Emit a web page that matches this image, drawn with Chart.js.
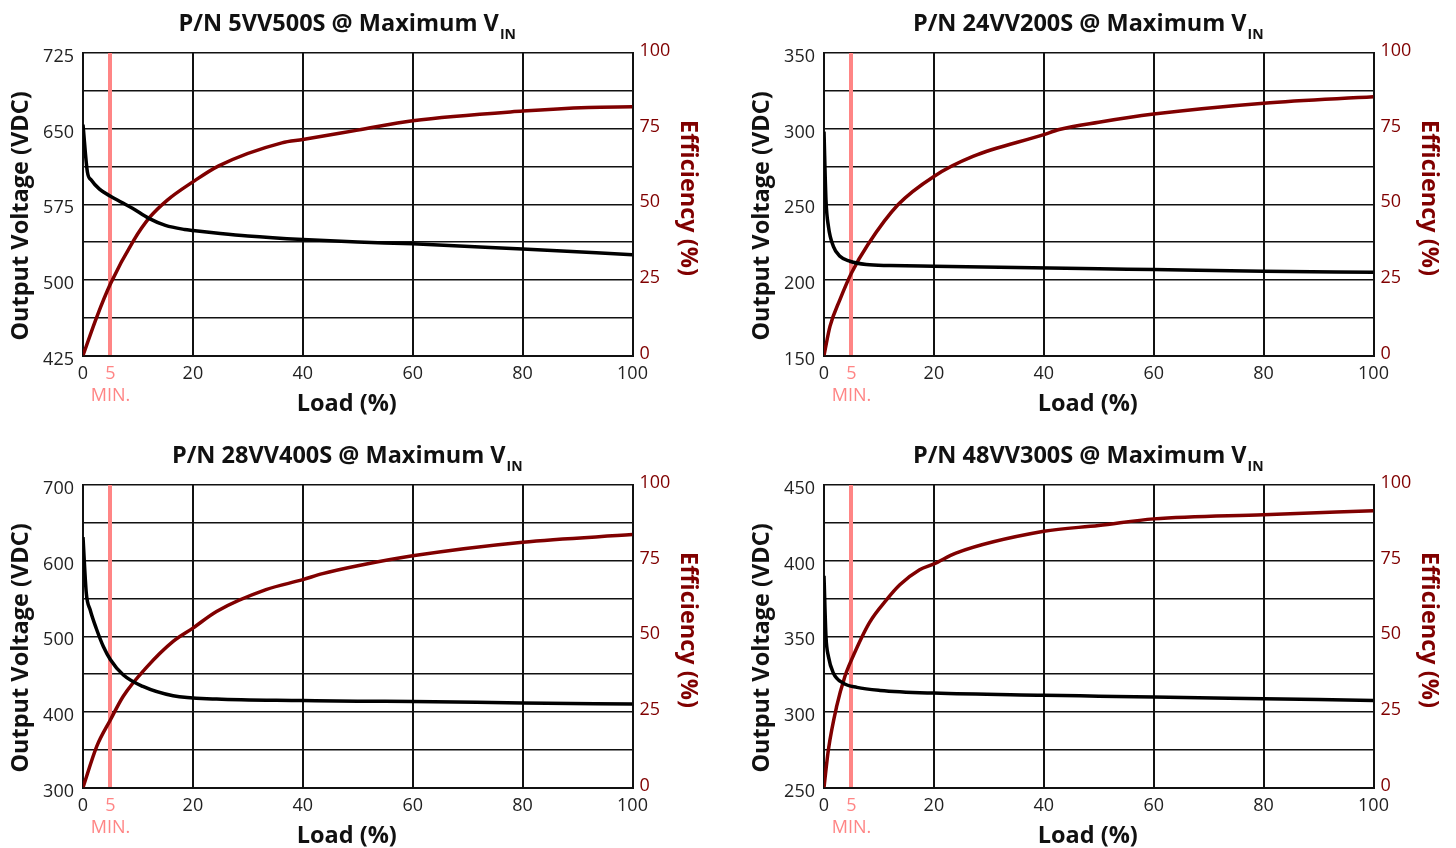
<!DOCTYPE html>
<html>
<head>
<meta charset="utf-8">
<script src="https://cdn.jsdelivr.net/npm/chart.js@4.4.1/dist/chart.umd.min.js"></script>
<style>
  body { margin: 0; background: #fff; }
  .wrap { position: relative; width: 1456px; height: 848px; overflow: hidden; }
  canvas { position: absolute; }
</style>
</head>
<body>
<div class="wrap">
  <canvas id="c1" width="715" height="416" style="left:0;top:0"></canvas>
  <canvas id="c2" width="715" height="416" style="left:741px;top:0"></canvas>
  <canvas id="c3" width="715" height="416" style="left:0;top:432px"></canvas>
  <canvas id="c4" width="715" height="416" style="left:741px;top:432px"></canvas>
</div>
<script>
// x axis ticks (load %), 5 = minimum load marker
const loadTicks = [0, 5, 20, 40, 60, 80, 100];
const effTicks = [0, 25, 50, 75, 100];

// P/N 5VV500S
const loadV1 = [0, 0.8, 1.5, 3, 5, 7, 9, 12, 15, 18.5, 20, 25, 30, 40, 50, 60, 80, 100];
const volt1 = [654, 607, 599, 590, 583, 577, 571, 561, 554, 550, 549, 546, 543.5, 540, 537.5, 535.8, 530.5, 525];
const loadE1 = [0, 2.5, 5, 9.2, 12.2, 15.3, 20, 24.7, 36.2, 40, 50, 60, 80, 92, 100];
const eff1 = [0, 12.7, 23.7, 38, 45.8, 51.3, 57.4, 62.7, 70.3, 71.4, 74.5, 77.6, 80.8, 82, 82.2];

// P/N 24VV200S
const loadV2 = [0, 0.36, 0.8, 1.7, 2.9, 4.7, 7.7, 12, 20, 50, 60, 80, 100];
const volt2 = [298, 253, 235.4, 222.2, 215.6, 212.3, 210.1, 209.5, 209, 207.3, 206.8, 205.7, 205];
const loadE2 = [0, 1.1, 2.9, 5, 8, 13.5, 20, 27.1, 40, 42.8, 50, 60, 80, 100];
const eff2 = [0, 9.7, 18.5, 27.3, 36.7, 49.9, 59.2, 65.8, 73, 74.7, 77.1, 79.8, 83.4, 85.5];

// P/N 28VV400S
const loadV3 = [0, 0.6, 1.3, 2.5, 3.7, 5, 7.3, 10.9, 16.4, 24.3, 40, 50, 60, 80, 100];
const volt3 = [631, 557, 535, 508.6, 486.5, 469, 449, 433.6, 421.3, 417, 415, 414, 413.8, 411.6, 410.3];
const loadE3 = [0, 2.5, 5, 7.3, 11.6, 16.4, 20, 24.3, 33.3, 40, 43.6, 50, 60, 80, 100];
const eff3 = [0, 13.6, 22.4, 30.1, 39.8, 48.3, 52.7, 58.2, 65.4, 68.7, 70.7, 73.3, 76.6, 81.1, 83.6];

// P/N 48VV300S
const loadV4 = [0, 0.36, 0.8, 1.7, 3.5, 6, 10.2, 20, 40, 50, 60, 80, 100];
const volt4 = [390, 350, 336.7, 325.7, 319, 316.2, 314.2, 312.4, 311, 310.4, 309.8, 308.7, 307.6];
const loadE4 = [0, 0.8, 2.3, 3.8, 5, 8.3, 11.4, 13.8, 17.4, 20, 24, 40, 50, 60, 80, 100];
const eff4 = [0, 12.5, 26.8, 36.7, 42.2, 54.6, 62.1, 67, 72, 73.9, 77.5, 84.7, 86.6, 88.8, 90.2, 91.5];

const RED = '#800000';
const MIN_COLOR = '#ff8585';
const FONT = '"Open Sans", "Noto Sans", sans-serif';

// chart title with subscript "IN" and the three axis titles
const chartTexts = {
    id: 'chartTexts',
    afterDraw(chart, args, opts) {
        const c = chart.ctx;
        const area = chart.chartArea;
        const cx = (area.left + area.right) / 2 - 11;
        c.save();
        c.textBaseline = 'alphabetic';
        c.textAlign = 'left';
        c.fillStyle = '#111';
        c.font = 'bold 23.5px ' + FONT;
        const w1 = c.measureText(opts.text).width;
        c.font = 'bold 14px ' + FONT;
        const w2 = c.measureText('IN').width;
        const x = cx - (w1 + w2) / 2;
        c.font = 'bold 23.5px ' + FONT;
        c.fillText(opts.text, x, 31);
        c.font = 'bold 14px ' + FONT;
        c.fillText('IN', x + w1 + 1, 38.5);

        c.font = 'bold 23.5px ' + FONT;
        c.textAlign = 'center';
        c.textBaseline = 'middle';
        c.fillText('Load (%)', cx, 404);

        c.save();
        c.translate(21.5, 216);
        c.rotate(-Math.PI / 2);
        c.fillText('Output Voltage (VDC)', 0, 0);
        c.restore();

        c.save();
        c.fillStyle = RED;
        c.translate(688, 198);
        c.rotate(Math.PI / 2);
        c.fillText('Efficiency (%)', 0, 0);
        c.restore();
        c.restore();
    }
};

function pts(xs, ys) {
    return xs.map((x, i) => ({ x: x, y: ys[i] }));
}

function makeChart(id, title, vMin, vMax, vStep, loadV, volt, loadE, eff) {
    const ctx = document.getElementById(id).getContext('2d');
    return new Chart(ctx, {
        type: 'line',
        data: {
            datasets: [{
                label: 'Output Voltage',
                data: pts(loadV, volt),
                yAxisID: 'yV',
                borderColor: '#000',
                borderWidth: 3.5,
                pointRadius: 0,
                cubicInterpolationMode: 'monotone'
            }, {
                label: 'Efficiency',
                data: pts(loadE, eff),
                yAxisID: 'yE',
                borderColor: RED,
                borderWidth: 3.5,
                pointRadius: 0,
                cubicInterpolationMode: 'monotone'
            }]
        },
        options: {
            responsive: false,
            animation: false,
            layout: { padding: { top: 53, left: 0, right: 0, bottom: 0 } },
            plugins: {
                legend: { display: false },
                tooltip: { enabled: false },
                chartTexts: { text: title }
            },
            scales: {
                x: {
                    type: 'linear',
                    min: 0,
                    max: 100,
                    afterBuildTicks: (scale) => { scale.ticks = loadTicks.map(v => ({ value: v })); },
                    afterFit: (scale) => { scale.height = 60.5; },
                    grid: {
                        z: -1,
                        drawTicks: false,
                        color: (c) => c.tick && c.tick.value === 5 ? MIN_COLOR : '#111',
                        lineWidth: (c) => c.tick && c.tick.value === 5 ? 4 : 2
                    },
                    border: { color: '#111', width: 2 },
                    ticks: {
                        autoSkip: false,
                        maxRotation: 0,
                        padding: 8,
                        font: { family: FONT, size: 18 },
                        color: (c) => c.tick && c.tick.value === 5 ? MIN_COLOR : '#222',
                        callback: (v) => v === 5 ? ['5', 'MIN.'] : String(v)
                    }
                },
                yV: {
                    position: 'left',
                    min: vMin,
                    max: vMax,
                    afterFit: (scale) => { scale.width = 83; },
                    grid: { z: -2, drawTicks: false, color: '#111', lineWidth: 1.5 },
                    border: { color: '#111', width: 2 },
                    ticks: {
                        stepSize: vStep,
                        padding: 9,
                        labelOffset: 4,
                        font: { family: FONT, size: 18 },
                        color: '#222',
                        callback: (v, i) => i % 2 === 0 ? String(v) : ''
                    }
                },
                yE: {
                    position: 'right',
                    min: 0,
                    max: 100,
                    afterBuildTicks: (scale) => { scale.ticks = effTicks.map(v => ({ value: v })); },
                    afterFit: (scale) => { scale.width = 82.5; },
                    grid: { display: false, drawTicks: false },
                    border: { color: '#111', width: 2 },
                    ticks: {
                        padding: 7,
                        labelOffset: -2,
                        font: { family: FONT, size: 18 },
                        color: RED
                    }
                }
            }
        },
        plugins: [chartTexts]
    });
}

makeChart('c1', 'P/N 5VV500S @ Maximum V', 425, 725, 37.5, loadV1, volt1, loadE1, eff1);
makeChart('c2', 'P/N 24VV200S @ Maximum V', 150, 350, 25, loadV2, volt2, loadE2, eff2);
makeChart('c3', 'P/N 28VV400S @ Maximum V', 300, 700, 50, loadV3, volt3, loadE3, eff3);
makeChart('c4', 'P/N 48VV300S @ Maximum V', 250, 450, 25, loadV4, volt4, loadE4, eff4);
</script>
</body>
</html>
